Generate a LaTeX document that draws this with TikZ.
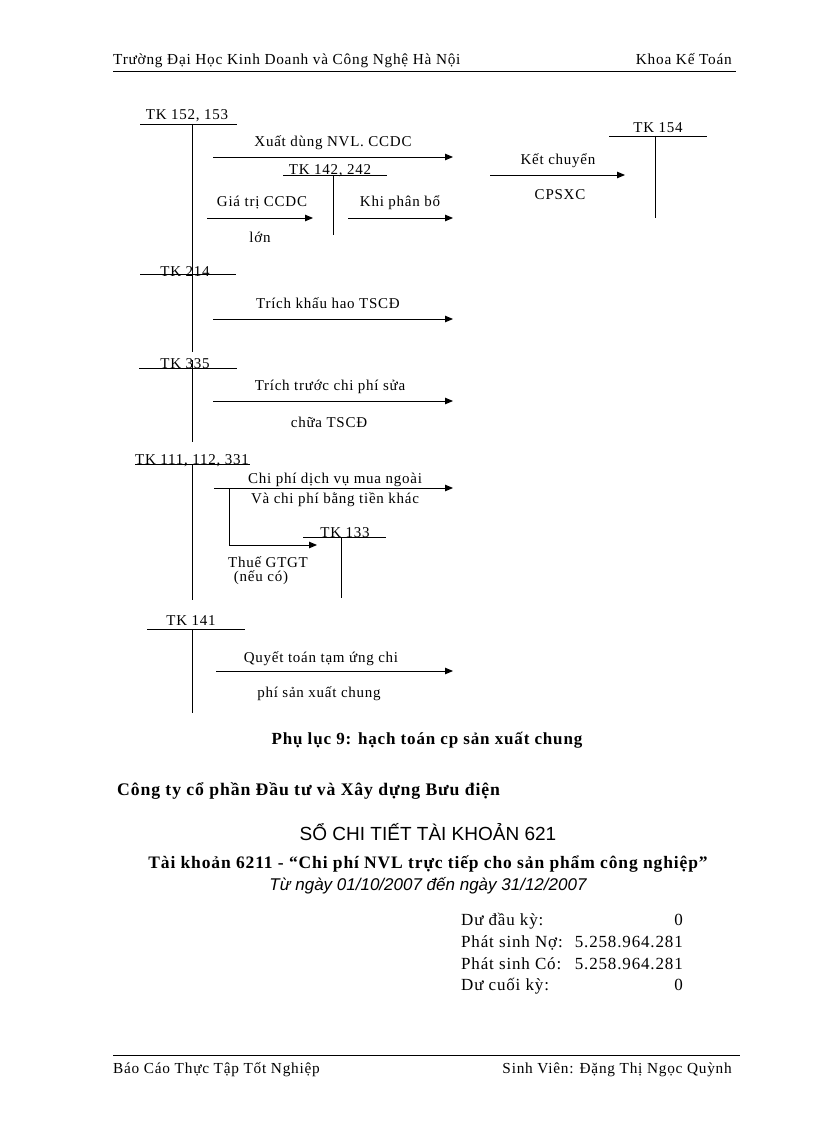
\documentclass[tikz,border=0pt]{standalone}
\usepackage{fontspec}
\setmainfont[LetterSpace=5]{Liberation Serif}
\newfontfamily\arialf{Liberation Sans}
\usetikzlibrary{arrows.meta}
\begin{document}
\begin{tikzpicture}[x=1pt,y=-1pt,
  every node/.style={inner sep=0pt, anchor=base, font=\fontsize{15}{18}\selectfont},
  tline/.style={line width=0.9pt},
  flow/.style={line width=0.9pt,-{Triangle[length=8pt,width=6.5pt]}},
  hdr/.style={font=\fontsize{15.3}{18}\selectfont},
  big/.style={font=\fontsize{17}{20}\selectfont}]
\useasboundingbox (0,0) rectangle (816,1123);
% header
\node[hdr,anchor=base west] (h1) at (113,65) {Trường Đại Học Kinh Doanh và Công Nghệ Hà Nội};
\node[hdr,anchor=base east] (h2) at (732,65) {Khoa Kế Toán};
\draw[tline] (113,71) -- (736,71);
% TK 152,153
\node (t152) at (187,120) {TK 152, 153};
\draw[tline] (140,124) -- (237,124);
\draw[tline] (192,124) -- (192,352);
% TK 142,242
\node (t142) at (330,175) {TK 142, 242};
\draw[tline] (283,175) -- (387,175);
\draw[tline] (333,175) -- (333,235);
% TK 154
\node (t154) at (658,133) {TK 154};
\draw[tline] (609,136) -- (707,136);
\draw[tline] (655,136) -- (655,218);
% arrows top
\coordinate (a1s) at (213,157); \coordinate (a1e) at (453,157);
\draw[flow] (a1s) -- (a1e);
\node (l1) at (333,147) {Xuất dùng NVL. CCDC};
\coordinate (a2s) at (207,218); \coordinate (a2e) at (313,218);
\draw[flow] (a2s) -- (a2e);
\node (l2) at (262,207) {Giá trị CCDC};
\node (l2b) at (260,242) {lớn};
\coordinate (a3s) at (348,218); \coordinate (a3e) at (453,218);
\draw[flow] (a3s) -- (a3e);
\node (l3) at (400,207) {Khi phân bổ};
\coordinate (a4s) at (490,175); \coordinate (a4e) at (625,175);
\draw[flow] (a4s) -- (a4e);
\node (l4) at (558,165) {Kết chuyển};
\node (l4b) at (560,200) {CPSXC};
% TK 214
\node (t214) at (185,276) {TK 214};
\draw[tline] (140,274) -- (236,274);
\coordinate (a5s) at (213,319); \coordinate (a5e) at (453,319);
\draw[flow] (a5s) -- (a5e);
\node (l5) at (328,308) {Trích khấu hao TSCĐ};
% TK 335
\node (t335) at (185,368) {TK 335};
\draw[tline] (139,368) -- (237,368);
\draw[tline] (192,360) -- (192,442);
\coordinate (a6s) at (213,401); \coordinate (a6e) at (453,401);
\draw[flow] (a6s) -- (a6e);
\node (l6) at (330,390) {Trích trước chi phí sửa};
\node (l6b) at (329,427) {chữa TSCĐ};
% TK 111,112,331
\node (t111) at (192,464) {TK 111, 112, 331};
\draw[tline] (135,464) -- (250,464);
\draw[tline] (192,464) -- (192,600);
\coordinate (a7s) at (214,488); \coordinate (a7e) at (453,488);
\draw[flow] (a7s) -- (a7e);
\node (l7) at (335,483) {Chi phí dịch vụ mua ngoài};
\node (l7b) at (335,503) {Và chi phí bằng tiền khác};
\coordinate (br) at (229,488); \coordinate (brc) at (229,545); \coordinate (bre) at (317,545);
\draw[tline] (br) -- (brc);
\draw[flow] (brc) -- (bre);
\node (l8) at (268,567) {Thuế GTGT};
\node (l8b) at (261,581) {(nếu có)};
% TK 133
\node (t133) at (345,537) {TK 133};
\draw[tline] (303,537) -- (386,537);
\draw[tline] (341,537) -- (341,598);
% TK 141
\node (t141) at (191,625) {TK 141};
\draw[tline] (147,629) -- (245,629);
\draw[tline] (192,629) -- (192,713);
\coordinate (a9s) at (216,671); \coordinate (a9e) at (453,671);
\draw[flow] (a9s) -- (a9e);
\node (l9) at (321,662) {Quyết toán tạm ứng chi};
\node (l9b) at (319,697) {phí sản xuất chung};
% bottom texts
\node[font=\fontsize{17}{20}\selectfont\bfseries] (cap) at (427,744) {Phụ lục 9: hạch toán cp sản xuất chung};
\node[font=\fontsize{17.7}{20}\selectfont\bfseries,anchor=base west] (cty) at (117,795) {Công ty cổ phần Đầu tư và Xây dựng Bưu điện};
\node[font=\fontsize{19}{22}\selectfont\arialf] (so) at (428,840) {SỔ CHI TIẾT TÀI KHOẢN 621};
\node[font=\fontsize{17.5}{20}\selectfont\bfseries] (tk) at (428,868) {Tài khoản 6211 - “Chi phí NVL trực tiếp cho sản phẩm công nghiệp”};
\node[font=\fontsize{17}{20}\selectfont\arialf\itshape] (tu) at (428,890) {Từ ngày 01/10/2007 đến ngày 31/12/2007};
\node[big,anchor=base west] (d1) at (461,925) {Dư đầu kỳ:};
\node[big,anchor=base east] (v1) at (683,925) {0};
\node[big,anchor=base west] (d2) at (461,947) {Phát sinh Nợ:};
\node[big,anchor=base east] (v2) at (683,947) {5.258.964.281};
\node[big,anchor=base west] (d3) at (461,969) {Phát sinh Có:};
\node[big,anchor=base east] (v3) at (683,969) {5.258.964.281};
\node[big,anchor=base west] (d4) at (461,990) {Dư cuối kỳ:};
\node[big,anchor=base east] (v4) at (683,990) {0};
% footer
\draw[tline] (113,1055) -- (740,1055);
\node[hdr,anchor=base west] (f1) at (113,1073) {Báo Cáo Thực Tập Tốt Nghiệp};
\node[hdr,anchor=base east] (f2) at (732,1073) {Sinh Viên: Đặng Thị Ngọc Quỳnh};
\end{tikzpicture}
\end{document}
